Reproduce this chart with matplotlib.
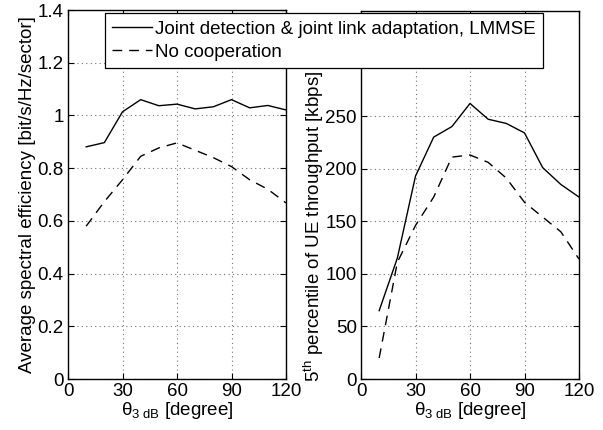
import matplotlib
matplotlib.use("Agg")
import matplotlib.pyplot as plt

plt.rcParams["font.family"] = ["Liberation Sans", "DejaVu Sans"]
plt.rcParams["mathtext.fontset"] = "custom"
plt.rcParams["mathtext.rm"] = "Liberation Sans"
plt.rcParams["mathtext.it"] = "Liberation Sans"

theta = [10, 20, 30, 40, 50, 60, 70, 80, 90, 100, 110, 120]
se_joint = [0.881, 0.897, 1.014, 1.060, 1.037, 1.043, 1.025, 1.033, 1.060, 1.029, 1.038, 1.021]
se_nocoop = [0.580, 0.673, 0.756, 0.845, 0.877, 0.896, 0.868, 0.840, 0.806, 0.756, 0.720, 0.668]
tp_joint = [65, 115, 193, 230, 240, 262, 247, 243, 234, 201, 185, 173]
tp_nocoop = [20, 111, 146, 173, 211, 213, 206, 191, 168, 154, 140, 114]

LAB_JOINT = "Joint detection & joint link adaptation, LMMSE"
LAB_NOCOOP = "No cooperation"
XLAB = r"$\theta_{\rm 3\ dB}$ [degree]"
FS = 13.5
DASH = (7, 5)

fig = plt.figure(figsize=(6.03, 4.30), dpi=100)
ax1 = fig.add_axes([0.1128, 0.1186, 0.3615, 0.858])
ax2 = fig.add_axes([0.5987, 0.1186, 0.3615, 0.856])

for ax in (ax1, ax2):
    ax.grid(True, linestyle=(0, (1, 3)), color="0.45", lw=0.8)
    ax.tick_params(direction="in", top=True, right=True, labelsize=FS, length=4, pad=3)
    ax.set_xlim(0, 120)
    ax.set_xticks([0, 30, 60, 90, 120])
    ax.set_xlabel(XLAB, fontsize=FS, labelpad=0)
    for sp in ax.spines.values():
        sp.set_linewidth(1.0)

l1, = ax1.plot(theta, se_joint, "k-", lw=1.0)
l2, = ax1.plot(theta, se_nocoop, "k--", lw=1.0, dashes=DASH)
ax1.set_ylim(0, 1.4)
ax1.set_yticks([0, 0.2, 0.4, 0.6, 0.8, 1.0, 1.2, 1.4])
ax1.set_yticklabels(["0", "0.2", "0.4", "0.6", "0.8", "1", "1.2", "1.4"])
ax1.set_ylabel("Average spectral efficiency [bit/s/Hz/sector]", fontsize=FS, labelpad=1)

ax2.plot(theta, tp_joint, "k-", lw=1.0)
ax2.plot(theta, tp_nocoop, "k--", lw=1.0, dashes=DASH)
ax2.set_ylim(0, 350)
ax2.set_yticks([0, 50, 100, 150, 200, 250])
ax2.set_ylabel(r"5$^{\rm th}$ percentile of UE throughput [kbps]", fontsize=FS)
ax2.yaxis.set_label_coords(-0.16, 0.415)

leg = fig.legend([l1, l2], [LAB_JOINT, LAB_NOCOOP], loc="upper left",
                 bbox_to_anchor=(0.174, 0.969), fontsize=FS, fancybox=False,
                 framealpha=1, edgecolor="k", handlelength=2.1, handletextpad=0.15,
                 borderpad=0.4, labelspacing=0.3, borderaxespad=0)
leg.get_frame().set_linewidth(0.9)
leg.set_zorder(10)

fig.savefig("out.png", dpi=100)
